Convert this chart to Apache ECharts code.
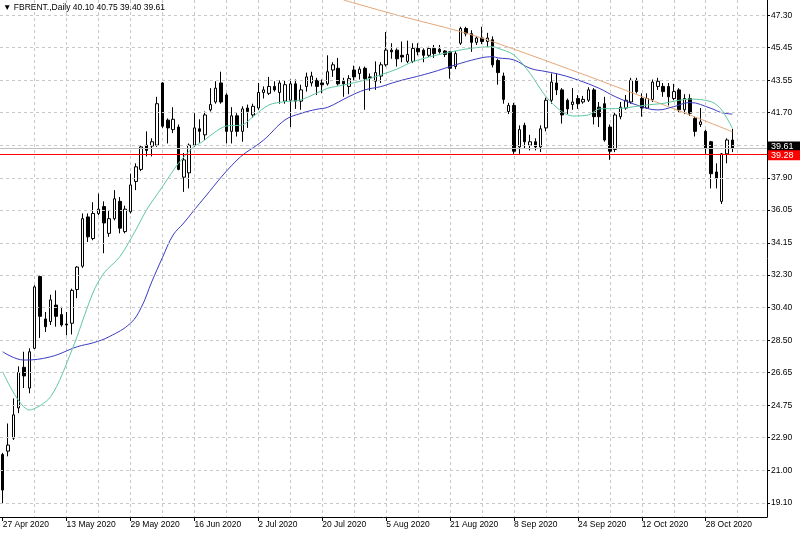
<!DOCTYPE html>
<html>
<head>
<meta charset="utf-8">
<script src="https://cdn.jsdelivr.net/npm/echarts@6/dist/echarts.min.js"></script>
<style>
html,body{margin:0;padding:0;background:#fff;}
#chart{width:800px;height:533px;}
</style>
</head>
<body>
<div id="chart"></div>
<script>
// ---- data ----
const symbolName = 'FBRENT.';
const periodName = 'Daily';
const firstDate = '2020-04-27';
const barCount = 138;      // daily bars drawn
const emptySlots = 6;      // chart shift on the right

const opens  = [21.9,22.1,22.85,24.6,26.95,25.75,28.05,32.2,29.75,29.6,30.55,30.0,29.45,29.5,31.45,32.8,35.65,34.4,35.85,36.25,
34.7,35.55,36.55,34.8,35.95,37.7,38.4,39.8,39.75,39.8,43.4,41.25,40.7,40.85,37.95,38.2,39.8,40.75,40.4,41.85,
42.3,43.4,42.7,40.6,41.5,40.6,41.95,41.55,41.95,42.85,42.8,43.2,42.85,42.35,42.4,43.35,42.35,43.2,43.4,43.55,
43.4,43.35,44.15,44.25,43.5,43.2,44.15,43.95,44.25,43.75,43.5,43.8,44.45,45.3,45.3,45.0,44.65,44.65,45.4,45.3,
45.0,45.4,45.35,45.25,45.2,44.35,45.7,46.55,46.25,45.75,46.0,45.8,45.9,44.7,43.8,41.75,42.1,39.7,40.95,39.8,
40.0,39.7,40.8,42.4,43.4,43.0,42.4,42.15,42.5,42.3,42.4,43.0,42.0,42.2,40.85,39.55,41.45,41.95,42.3,43.55,
42.5,41.95,42.45,43.2,43.2,43.2,42.5,43.0,41.85,42.5,41.35,41.0,40.6,40.0,38.25,36.55,39.3,40.10];
const highs  = [22.0,23.7,25.15,27.0,27.85,28.05,31.7,32.25,30.15,31.15,31.4,30.45,30.15,31.5,32.8,35.85,35.85,36.5,37.0,36.55,
36.05,37.2,36.8,36.3,38.15,38.75,39.8,40.6,40.2,42.6,43.45,41.35,42.0,41.0,39.35,39.9,41.65,41.3,41.75,43.1,
43.5,44.05,42.8,42.0,41.65,42.05,42.15,42.2,43.4,43.2,43.75,43.5,43.55,43.55,43.6,43.6,43.3,44.0,44.05,43.7,
43.6,45.0,44.6,44.85,43.7,43.85,44.4,44.35,44.35,43.95,44.65,44.6,46.35,45.7,45.4,45.8,45.85,45.7,45.7,45.4,
45.5,45.6,45.6,45.3,45.25,45.25,46.65,46.65,46.45,46.1,46.65,46.3,46.1,44.8,44.0,42.25,42.25,40.95,41.1,40.4,
40.2,40.95,42.55,43.95,43.95,43.1,42.5,43.1,42.7,42.65,43.15,43.1,42.3,42.6,41.0,41.7,42.3,42.7,43.7,43.7,
42.8,42.8,43.6,43.7,43.4,43.4,43.35,43.1,42.75,42.75,41.45,41.95,40.7,40.05,38.75,39.35,40.2,40.75];
const lows   = [19.05,21.8,22.75,24.3,25.75,25.45,28.0,28.65,29.0,29.4,29.3,29.3,28.8,28.85,30.95,32.7,34.2,34.3,35.75,33.55,
34.5,35.45,34.7,34.7,35.85,37.2,38.3,39.15,39.15,39.7,40.8,39.9,40.5,38.35,37.1,37.3,39.7,39.95,40.1,41.75,
42.2,42.2,39.9,39.9,40.3,40.0,40.8,41.4,41.85,42.5,42.7,42.9,42.2,42.2,40.85,41.9,41.85,42.9,43.2,42.7,
42.8,43.25,43.75,43.25,42.6,42.75,43.55,43.6,41.85,42.95,43.0,43.4,44.35,44.8,44.35,44.6,44.55,44.55,45.0,44.6,
44.9,44.85,45.1,44.9,43.65,44.2,45.6,46.1,45.2,45.6,45.65,45.5,44.3,43.3,42.2,41.6,39.3,39.3,39.6,39.5,
39.5,39.4,40.6,42.2,42.7,41.05,41.6,41.85,41.9,42.2,42.3,41.0,40.85,40.0,38.95,39.4,41.3,41.85,42.2,42.8,
41.45,41.9,42.3,43.0,42.6,42.1,42.4,41.7,41.6,41.5,40.3,40.85,39.3,37.3,37.3,36.4,38.75,39.40];
const closes = [19.85,22.45,24.2,26.65,26.45,27.85,31.6,29.9,29.3,30.85,29.9,29.4,29.4,31.4,32.75,35.55,34.5,35.85,36.1,35.3,
35.55,36.7,35.0,36.1,37.5,38.55,39.7,39.5,40.0,42.2,40.9,40.8,41.3,38.4,38.95,39.8,40.8,40.6,41.55,42.15,
43.1,42.3,40.6,41.5,40.6,41.9,41.75,42.05,42.85,43.0,43.2,43.0,43.4,43.3,43.35,42.35,43.0,43.75,43.8,43.2,
43.3,44.05,44.45,43.35,43.35,43.65,43.75,44.2,43.65,43.7,44.0,44.45,45.3,45.2,44.8,44.9,45.05,45.4,45.2,45.0,
45.4,45.1,45.2,45.05,44.25,45.1,46.55,46.25,45.75,46.0,45.8,46.0,44.45,44.0,42.45,42.1,39.45,40.7,40.0,40.0,
39.7,40.75,42.4,43.45,43.0,41.55,41.9,42.3,42.2,42.45,43.0,41.45,41.45,40.1,39.45,41.55,42.0,42.4,43.55,42.9,
41.95,42.5,43.45,43.5,42.9,42.6,42.9,41.85,42.5,41.65,40.6,41.15,39.6,38.15,37.9,39.3,40.1,39.61];

// moving averages, [bar index, value] read at positions along each line
const greenMA = [[0,26.70],[5,24.48],[9,25.25],[13,27.95],[17,31.3],[19,32.4],[22,33.35],[25,34.9],[27,36.05],[30,37.40],
[33,38.75],[36,39.75],[37,39.9],[42,40.91],[45,40.97],[47,41.45],[50,42.13],[53,42.32],[56,42.42],[61,43.09],[64,43.28],
[68,43.57],[74,44.2],[77,44.63],[83,45.12],[88,45.41],[92,45.50],[93,45.41],[96,45.02],[99,43.96],[102,42.61],[105,41.74],
[107,41.49],[110,41.55],[112,41.9],[116,41.93],[121,42.13],[124,42.22],[127,42.40],[129,42.47],[133,42.32],[135,41.84],[137,40.78]];
const blueMA = [[0,27.85],[4,27.37],[9,27.56],[14,28.14],[17,28.37],[20,28.72],[24,29.5],[26,30.4],[28,31.9],[30,33.3],
[32,34.6],[34,35.3],[37,36.44],[44,38.94],[49,40.10],[53,41.26],[56,41.64],[59,41.88],[61,41.99],[65,42.61],[68,43.0],
[71,43.19],[74,43.48],[80,43.96],[86,44.54],[90,44.86],[92,44.92],[93,44.85],[96,44.73],[99,44.25],[102,44.06],[105,43.86],
[108,43.57],[112,43.09],[115,42.61],[119,42.13],[123,41.84],[126,42.03],[129,42.27],[133,41.93],[135,41.68],[137,41.60]];
const orangeMA = [[64,48.2],[74,47.33],[86,46.37],[92,45.79],[111,43.67],[129,41.55],[137,40.58]];

const priceLevel = 39.28;   // red horizontal line
const yTickLabels = ['19.10','21.00','22.90','24.75','26.65','28.50','30.40','32.30','34.15','36.05','37.90','39.80','41.70','43.55','45.45','47.30'];
const yMin = 18.29, yMax = 48.20;
const xLabelEvery = 12, xGridEvery = 6;

// ---- build ----
const months = ['Jan','Feb','Mar','Apr','May','Jun','Jul','Aug','Sep','Oct','Nov','Dec'];
const categories = [];
{
  const d = new Date(firstDate + 'T00:00:00Z');
  while (categories.length < barCount + emptySlots) {
    const wd = d.getUTCDay();
    if (wd !== 0 && wd !== 6) categories.push(d.getUTCDate() + ' ' + months[d.getUTCMonth()] + ' ' + d.getUTCFullYear());
    d.setUTCDate(d.getUTCDate() + 1);
  }
}
const yTickValues = yTickLabels.map(parseFloat);
const candles = opens.map((o, i) => [o, closes[i], lows[i], highs[i]]);
const last = barCount - 1;
const header = '\u25BC ' + symbolName + ',' + periodName + ' ' +
  [opens[last], highs[last], lows[last], closes[last]].map(v => v.toFixed(2)).join(' ');

const FONT = "'Liberation Sans', 'DejaVu Sans', Arial, sans-serif";
const FS = 8.5;

const chart = echarts.init(document.getElementById('chart'), null, {renderer: 'canvas'});
chart.setOption({
  animation: false,
  backgroundColor: '#ffffff',
  title: {
    text: header, left: 3, top: 3, padding: 0,
    textStyle: {fontSize: FS, fontWeight: 'normal', color: '#000', fontFamily: FONT}
  },
  grid: {left: 0, right: 33, top: 0, bottom: 16, containLabel: false, outerBoundsMode: 'none'},
  xAxis: {
    type: 'category',
    data: categories,
    boundaryGap: true,
    axisLine: {show: true, lineStyle: {color: '#000', width: 1}},
    axisTick: {show: true, alignWithLabel: true, length: 4, interval: (i) => i % xLabelEvery === 0 && i < barCount, lineStyle: {color: '#000'}},
    axisLabel: {show: true, interval: (i) => i % xLabelEvery === 0 && i < barCount, align: 'left', margin: 3,
      fontSize: FS, color: '#000', fontFamily: FONT},
    splitLine: {show: true, alignWithLabel: true, interval: (i) => i % xGridEvery === 0 && i > 0,
      lineStyle: {color: '#c8c8c8', type: [3, 3], width: 1}}
  },
  yAxis: {
    type: 'value', position: 'right', min: yMin, max: yMax, scale: true,
    axisLine: {show: true, lineStyle: {color: '#000', width: 1}},
    axisTick: {show: true, length: 3, customValues: yTickValues, lineStyle: {color: '#000'}},
    axisLabel: {show: true, customValues: yTickValues, margin: 4, fontSize: FS, color: '#000', fontFamily: FONT,
      formatter: (v) => { const k = yTickValues.findIndex(t => Math.abs(t - v) < 1e-6); return k >= 0 ? yTickLabels[k] : ''; }},
    splitLine: {show: false}
  },
  series: [
    { // horizontal grid
      type: 'line', data: [], z: 1, silent: true,
      markLine: {silent: true, symbol: ['none', 'none'], animation: false,
        label: {show: false},
        lineStyle: {color: '#c8c8c8', type: [3, 3], width: 1},
        data: yTickValues.map(v => ({yAxis: v}))}
    },
    {
      type: 'candlestick', data: candles, z: 2, barWidth: 3,
      itemStyle: {color: '#ffffff', color0: '#000000', borderColor: '#000000', borderColor0: '#000000', borderWidth: 1}
    },
    {type: 'line', data: orangeMA, z: 3, smooth: 0.3, symbol: 'none', clip: true,
      lineStyle: {color: '#e3a679', width: 1}},
    {type: 'line', data: blueMA, z: 3, smooth: 0.4, symbol: 'none',
      lineStyle: {color: '#3b3bc4', width: 1}},
    {type: 'line', data: greenMA, z: 3, smooth: 0.3, symbol: 'none',
      lineStyle: {color: '#5fc9a0', width: 1}},
    { // last price line + label
      type: 'line', data: [], z: 4, silent: true,
      markLine: {silent: true, symbol: ['none', 'none'], animation: false,
        lineStyle: {color: '#c0c0c0', type: 'solid', width: 1},
        label: {show: true, position: 'end', distance: 1, formatter: () => closes[last].toFixed(2),
          color: '#fff', backgroundColor: '#000', padding: [1, 8, 0, 3], fontSize: FS + 0.5, fontFamily: FONT, offset: [0, -2]},
        data: [{yAxis: closes[last]}]}
    },
    { // red horizontal line
      type: 'line', data: [], z: 5, silent: true,
      markLine: {silent: true, symbol: ['none', 'none'], animation: false,
        lineStyle: {color: '#ff0000', type: 'solid', width: 1},
        label: {show: true, position: 'end', distance: 1, formatter: () => priceLevel.toFixed(2),
          color: '#fff', backgroundColor: '#ff0000', padding: [1, 8, 0, 3], fontSize: FS + 0.5, fontFamily: FONT, offset: [0, 1]},
        data: [{yAxis: priceLevel}]}
    }
  ]
});
</script>
</body>
</html>
